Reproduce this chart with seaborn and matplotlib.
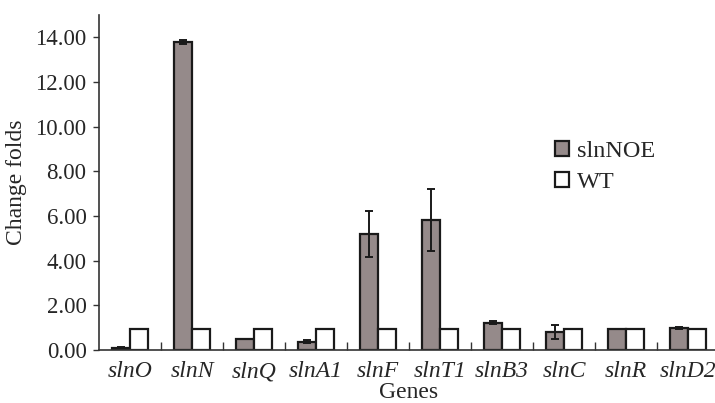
import numpy as np
import pandas as pd
import seaborn as sns
import matplotlib.pyplot as plt

genes = ['slnO', 'slnN', 'slnQ', 'slnA1', 'slnF', 'slnT1', 'slnB3', 'slnC', 'slnR', 'slnD2']
noe_vals = [0.10, 13.80, 0.48, 0.38, 5.20, 5.82, 1.22, 0.80, 0.92, 0.97]
noe_err = [0.03, 0.10, 0.0, 0.08, 1.03, 1.40, 0.07, 0.30, 0.0, 0.04]
wt_vals = [0.92, 0.92, 0.92, 0.92, 0.92, 0.92, 0.92, 0.92, 0.92, 0.92]
groups = ['slnNOE', 'WT']

df = pd.DataFrame({
    'gene': genes * 2,
    'group': [groups[0]] * len(genes) + [groups[1]] * len(genes),
    'value': noe_vals + wt_vals,
})

sns.set_style('ticks')
plt.rcParams['font.family'] = 'serif'
plt.rcParams['font.serif'] = ['Liberation Serif', 'DejaVu Serif']

fig = plt.figure(figsize=(7.15, 4.03), dpi=100)
ax = fig.add_axes([99 / 715, 53 / 403, 620 / 715, 335 / 403])

sns.barplot(data=df, x='gene', y='value', hue='group', order=genes, hue_order=groups,
            palette={'slnNOE': '#978888', 'WT': 'white'}, width=0.58,
            edgecolor='#1a1a1a', linewidth=1.6, errorbar=None, ax=ax)

# error bars only on the slnNOE bars
noe_bars = ax.containers[0]
xs = [b.get_x() + b.get_width() / 2 for b in noe_bars]
ax.errorbar(xs, noe_vals, yerr=noe_err, fmt='none', ecolor='#1a1a1a',
            elinewidth=1.4, capsize=3.2, capthick=1.4)

ax.set_xlim(-0.5, 9.5)
ax.set_ylim(0, 15)
ax.set_yticks(np.arange(0, 15, 2))
ax.set_yticklabels([f'{v:.2f}' for v in np.arange(0, 15, 2)], fontsize=16.5)
ax.set_xticks(np.arange(len(genes)))
ax.set_xticklabels(genes, fontsize=17, style='italic')
ax.tick_params(axis='x', length=0, pad=8)
ax.tick_params(axis='y', length=4, width=1, direction='out', color='#333333', pad=5)
ax.set_xticks(np.arange(0.5, len(genes) - 0.5, 1), minor=True)
ax.tick_params(axis='x', which='minor', length=6, width=1, direction='in', color='#333333')

sns.despine(ax=ax)
for s in ['left', 'bottom']:
    ax.spines[s].set_color('#333333')
    ax.spines[s].set_linewidth(1.2)

ax.set_ylabel('Change folds', fontsize=17, labelpad=6)
ax.set_xlabel('Genes', fontsize=17, labelpad=0)

leg = ax.legend(loc='upper left', bbox_to_anchor=(0.7, 0.69), frameon=False, fontsize=17.5,
                handlelength=0.6, handleheight=0.6, handletextpad=0.3, labelspacing=0.4)
for h in leg.legend_handles:
    h.set_edgecolor('#1a1a1a')
    h.set_linewidth(1.6)

fig.savefig('out.png', dpi=100)
